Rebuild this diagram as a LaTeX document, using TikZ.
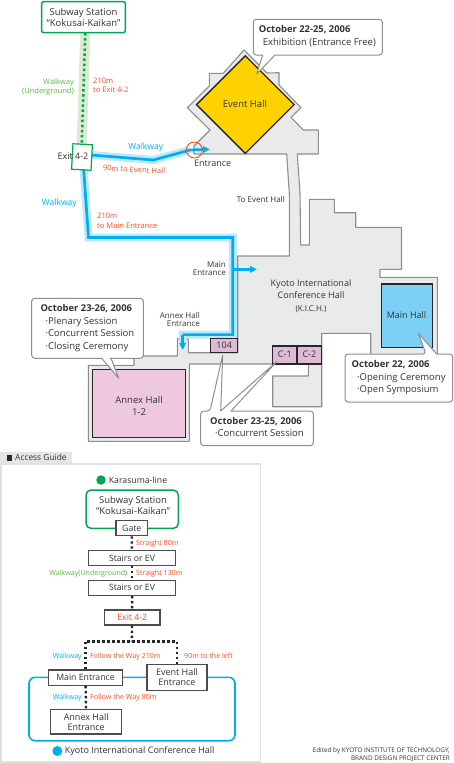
\documentclass[tikz,border=0pt]{standalone}
\usepackage{fontspec}
\setmainfont{Open Sans}
\usetikzlibrary{arrows.meta}
\definecolor{bld}{HTML}{E9EAEA}
\definecolor{bldline}{HTML}{8C8E90}
\definecolor{grn}{HTML}{00A650}
\definecolor{lgrn}{HTML}{DCEBCF}
\definecolor{wgrn}{HTML}{5DB44A}
\definecolor{cy}{HTML}{00AEEF}
\definecolor{lcy}{HTML}{BDE8FA}
\definecolor{rd}{HTML}{F04E23}
\definecolor{ink}{HTML}{333333}
\definecolor{yl}{HTML}{FFD200}
\definecolor{pk}{HTML}{EEC8DF}
\definecolor{rm}{HTML}{DDBBD6}
\definecolor{mh}{HTML}{7DD0F5}
\tikzset{
 t/.style={inner sep=0pt,text height=6.4pt,text depth=1.6pt,text=ink,font=\fontsize{9}{10}\selectfont},
 tc/.style={t,font=\fontsize{9.5}{10}\selectfont},
 ts/.style={t,font=\fontsize{8}{9}\selectfont},
 tb/.style={t,font=\fontsize{9.4}{10}\selectfont\bfseries},
 rt/.style={ts,text=rd,font=\fontsize{7.6}{9}\selectfont},
 gt/.style={ts,text=wgrn,font=\fontsize{7.5}{9}\selectfont},
 rg/.style={rt,font=\fontsize{7.1}{9}\selectfont},
 gg/.style={gt,font=\fontsize{7.1}{9}\selectfont},
 ct/.style={ts,text=cy,font=\fontsize{7.1}{9}\selectfont},
 room/.style={draw=black!85,line width=1.3pt},
 callout/.style={draw=bldline,fill=white,line width=1pt,rounded corners=3pt,line join=round},
 band/.style={draw=lcy,line width=8pt},
 route/.style={draw=cy,line width=2.7pt},
 tipped/.style={route,-{Triangle[length=7pt,width=6.5pt]}},
 gbox/.style={draw=black!70,fill=white,line width=1.2pt,inner sep=0pt,text=ink,font=\fontsize{8.7}{10}\selectfont,align=center},
 bdots/.style={draw=black!85,line width=2.4pt,dash pattern=on 2.4pt off 2.6pt},
}
\begin{document}
\begin{tikzpicture}[x=1pt,y=-1pt]
\useasboundingbox (0,0) rectangle (454,763);
% route coordinates
\coordinate (stn) at (85.3,33);
\coordinate (ex) at (81.7,145);
\coordinate (e1) at (91,155);
\coordinate (e2) at (83.7,170);
\coordinate (w1) at (153.3,160);
\coordinate (w2) at (190,150);
\coordinate (w3) at (210,149.3);
\coordinate (r1) at (88.5,237.5);
\coordinate (r2) at (232.8,237.5);
\coordinate (r3) at (232.8,334.6);
\coordinate (r4) at (182.7,334.6);
\coordinate (r5) at (182.7,350);
\coordinate (m1) at (233.3,269.3);
\coordinate (m2) at (257,269.3);
% green band
\draw[lgrn,line width=10pt] (stn) -- (ex);
% building
\fill[bld,draw=bldline,line width=1.1pt,line join=round]
 (244,50) -- (267,73) -- (279,72.7) -- (279,85) -- (301,107.7) -- (291,117.3) -- (303.3,130) -- (318.3,130) -- (318.3,154)
 -- (297.3,154) -- (300,193.3) -- (300.7,245) -- (309.3,245) -- (309.3,199.3) -- (334.3,199.3) -- (334.3,212.7) -- (355.7,212.7)
 -- (355.7,227.3) -- (401.5,227.3) -- (401.5,269.3) -- (380,269.3) -- (380,277.3) -- (437.3,277.3) -- (437.3,362) -- (370.7,362)
 -- (370.7,333.3) -- (321.7,333.3) -- (321.7,406.7) -- (272.7,406.7) -- (272.7,376) -- (308.3,376) -- (308.3,364) -- (189.3,364)
 -- (189.3,441.3) -- (88.3,441.3) -- (88.3,365.3) -- (134,365.3) -- (134,356) -- (177.3,356) -- (177.3,338.7) -- (188.3,338.7)
 -- (188.3,352.7) -- (237.7,352.7) -- (237.7,256) -- (289.3,256) -- (289.3,193.3) -- (286.7,154) -- (194,154) -- (194,146)
 -- (210,130) -- (187.3,107.7) -- (209.3,86) -- (209.3,73.3) -- (223.3,73.3) -- cycle;
% halls
\node[room,fill=yl,minimum size=69pt,inner sep=0pt,rotate=45] (eh) at (245.3,104.6) {};
\draw[room,fill=pk] (92.7,369.7) rectangle (185.3,437.3);
\draw[room,fill=mh] (381.3,284) rectangle (432.3,347.3);
% routes
\draw[band] (e1) -- (w1) -- (w2);
\draw[band] (e2) -- (r1) -- (r2) -- (r3) -- (r4) -- ++(0,8);
\draw[route] (e1) -- (w1) -- (w2);
\draw[tipped] (w2) -- (w3);
\draw[route] (e2) -- (r1) -- (r2) -- (r3) -- (r4);
\draw[tipped] (r4) -- (r5);
\draw[tipped] (m1) -- (m2);
\draw[grn,line width=2.5pt,dash pattern=on 2.5pt off 2.6pt] (stn) -- (ex);
\node[draw=rd,line width=.9pt,circle,minimum size=16pt,inner sep=0pt] (entc) at (194.3,150) {};
% rooms
\node[room,fill=rm,t,minimum width=27pt,minimum height=14pt] (r104) at (224.2,345.7) {104};
\node[room,fill=rm,t,minimum width=24.3pt,minimum height=18pt] (c1) at (284.8,355) {C-1};
\node[room,fill=rm,t,minimum width=24.7pt,minimum height=18pt] (c2) at (309.4,355) {C-2};
% callouts
\draw[callout] (253.3,19.3) -- (382.3,19.3) -- (382.3,55) -- (277,55) [sharp corners] -- (275,55) -- (256.7,74) -- (262.7,55) [rounded corners=3pt] -- (253.3,55) -- cycle;
\draw[callout] (31.7,298.3) -- (143.3,298.3) -- (143.3,358.3) -- (113,358.3) [sharp corners] -- (111,358.3) -- (118.7,378.3) -- (101.7,358.3) [rounded corners=3pt] -- (31.7,358.3) -- cycle;
\draw[callout] (200.7,411) -- (210,411) [sharp corners] -- (222.7,355) -- (220.7,411) -- (276.7,361.7) -- (231,411) [rounded corners=3pt] -- (313.3,411) -- (313.3,445.7) -- (200.7,445.7) -- cycle;
\draw[callout] (345,354) -- (426,354) [sharp corners] -- (418.3,333.3) -- (436.7,354) [rounded corners=3pt] -- (452.7,354) -- (452.7,402) -- (345,402) -- cycle;
% exit box
\node[draw=grn,fill=white,line width=1.2pt,minimum width=19.5pt,minimum height=25.5pt,inner sep=0pt,rotate=-3] (exitb) at (82,157) {};
% station
\node[draw=grn,fill=white,line width=1.5pt,rounded corners=2pt,minimum width=83.6pt,minimum height=31pt,inner sep=0pt,align=center,text=ink,font=\fontsize{9.5}{11.5}\selectfont] (stnb) at (83.5,17.2) {Subway Station\\``Kokusai-Kaikan''};
% map labels
\node[t,font=\fontsize{9.5}{10}\selectfont] (l1) at (245,105) {Event Hall};
\node[tb,anchor=west] (l2) at (258.7,30) {October 22-25, 2006};
\node[tc,anchor=west] (l3) at (262.7,43) {Exhibition (Entrance Free)};
\node[gt,anchor=east] (l4) at (74,81.7) {Walkway};
\node[gt,anchor=east] (l5) at (74,91.5) {(Underground)};
\node[rt,anchor=west] (l6) at (93,80.7) {210m};
\node[rt,anchor=west] (l7) at (93,90.5) {to Exit 4-2};
\node[t] (l8) at (73,157) {Exit 4-2};
\node[t,text=cy,font=\fontsize{8.5}{10}\selectfont] (l9) at (145.7,146.7) {Walkway};
\node[rt,rotate=-3] (l10) at (134,170) {90m to Event Hall};
\node[t,anchor=west] (l11) at (194,163.7) {Entrance};
\node[t,text=cy,font=\fontsize{8.5}{10}\selectfont] (l12) at (59.3,203.3) {Walkway};
\node[rt,anchor=west] (l13) at (97,216) {210m};
\node[rt,anchor=west] (l14) at (97,226) {to Main Entrance};
\node[ts,anchor=east] (l15) at (285,200.5) {To Event Hall};
\node[ts,anchor=east] (l16) at (226,264.7) {Main};
\node[ts,anchor=east] (l17) at (226,273) {Entrance};
\node[ts,anchor=east] (l18) at (200,315.7) {Annex Hall};
\node[ts,anchor=east] (l19) at (200,324) {Entrance};
\node[t] (l20) at (311,284) {Kyoto International};
\node[t] (l21) at (311,296.5) {Conference Hall};
\node[ts] (l22) at (311,309) {(K.I.C.H.)};
\node[t] (l23) at (406.5,316) {Main Hall};
\node[t,font=\fontsize{9.5}{10}\selectfont] (l24) at (139,401) {Annex Hall};
\node[t,font=\fontsize{9.5}{10}\selectfont] (l25) at (139,413) {1-2};
\node[tb,anchor=west] (l26) at (40.3,309) {October 23-26, 2006};
\node[tc,anchor=west] (l27) at (45.5,322) {·Plenary Session};
\node[tc,anchor=west] (l28) at (45.5,334.5) {·Concurrent Session};
\node[tc,anchor=west] (l29) at (45.5,347) {·Closing Ceremony};
\node[tb,anchor=west] (l30) at (210,421.7) {October 23-25, 2006};
\node[tc,anchor=west] (l31) at (215,434.5) {·Concurrent Session};
\node[tb,anchor=west] (l32) at (351.5,365) {October 22, 2006};
\node[tc,anchor=west] (l33) at (357,377.7) {·Opening Ceremony};
\node[tc,anchor=west] (l34) at (357,390) {·Open Symposium};
% access guide
\fill[black!10] (0,451.7) rectangle (72.3,464);
\fill[black!85] (6.7,455) rectangle (12.3,461);
\node[t,anchor=west,font=\fontsize{8.4}{10}\selectfont] (g0) at (15,458) {Access Guide};
\draw[black!12,line width=1.3pt] (1,464) rectangle (260.7,762);
\node[fill=grn,circle,minimum size=9.5pt,inner sep=0pt] (gd1) at (101,480) {};
\node[t,anchor=west,font=\fontsize{8.7}{10}\selectfont] (g1) at (108.7,480.7) {Karasuma-line};
\draw[cy,line width=1.6pt,rounded corners=6pt] (29,677.3) rectangle (235,740.7);
\node[draw=grn,fill=white,line width=1.5pt,rounded corners=5pt,minimum width=92.3pt,minimum height=38.3pt,inner sep=0pt] (sb) at (132.2,509.2) {};
\node[t,font=\fontsize{9.5}{10}\selectfont] (g2) at (133,500.7) {Subway Station};
\node[t,font=\fontsize{9.5}{10}\selectfont] (g3) at (133,512.3) {``Kokusai-Kaikan''};
\node[gbox,minimum width=31.7pt,minimum height=15pt] (gate) at (131.8,528.2) {Gate};
\node[gbox,minimum width=86.6pt,minimum height=14.6pt] (st1) at (132,558) {Stairs or EV};
\node[gbox,minimum width=86.6pt,minimum height=15pt] (st2) at (132,587.8) {Stairs or EV};
\node[gbox,minimum width=55.7pt,minimum height=15pt,text=rd] (ex2) at (132.2,617.5) {Exit 4-2};
\node[gbox,minimum width=74.4pt,minimum height=15.3pt] (me) at (85.5,677.7) {Main Entrance};
\node[gbox,minimum width=60pt,minimum height=26pt,font=\fontsize{9}{10}\selectfont] (ehe) at (177,677.3) {Event Hall\\Entrance};
\node[gbox,minimum width=71pt,minimum height=24.7pt,font=\fontsize{9}{10}\selectfont] (ahe) at (86.2,721.7) {Annex Hall\\Entrance};
\coordinate (jn) at (131.8,641.3);
\draw[bdots] (gate) -- (st1);
\draw[bdots] (st1) -- (st2);
\draw[bdots] (st2) -- (ex2);
\draw[bdots] (ex2) -- (jn);
\draw[bdots] (me.north) -- (85.5,641.3) -- (177,641.3) -- (ehe.north);
\draw[bdots] (me) -- (ahe);
\node[fill=cy,circle,minimum size=10pt,inner sep=0pt] (gd2) at (57.3,751) {};
\node[t,anchor=west] (g4) at (64.7,751.3) {Kyoto International Conference Hall};
\node[rg,anchor=west] (g5) at (136,543) {Straight 80m};
\node[gg,anchor=east] (g6) at (127.5,573) {Walkway(Underground)};
\node[rg,anchor=west] (g7) at (136,573) {Straight 130m};
\node[ct,anchor=east] (g8) at (82,656.3) {Walkway};
\node[rg,anchor=west] (g9) at (90,656.3) {Follow the Way 210m};
\node[rg,anchor=west] (g10) at (184,656.3) {90m to the left};
\node[ct,anchor=east] (g11) at (82,697) {Walkway};
\node[rg,anchor=west] (g12) at (90,697) {Follow the Way 80m};
\node[ts,anchor=east,font=\fontsize{6.4}{8}\selectfont] (c1t) at (450,750) {Edited by KYOTO INSTITUTE OF TECHNOLOGY,};
\node[ts,anchor=east,font=\fontsize{6.4}{8}\selectfont] (c2t) at (450,758.5) {BRAND DESIGN PROJECT CENTER};
\end{tikzpicture}
\end{document}
